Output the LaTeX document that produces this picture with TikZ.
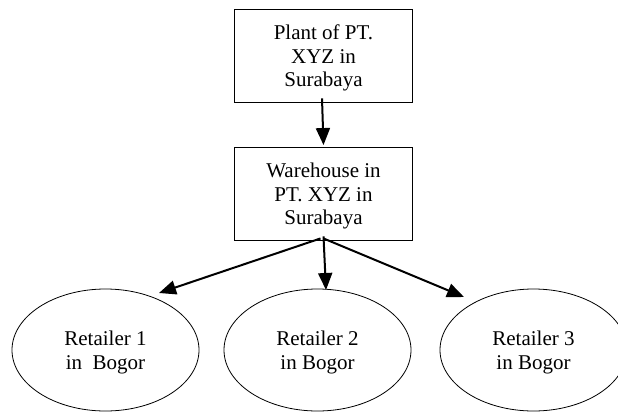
\documentclass[tikz,border=0pt]{standalone}
\usepackage{fontspec}
\setmainfont{Liberation Serif}
\usetikzlibrary{arrows.meta,shapes.geometric}

% centred multi-line label, drawn a little below the shape centre
% (the box keeps its natural height and depth, so the node is not resized)
\newcommand\stacktext[1]{\raisebox{-3pt}[\height][\depth]{\begin{tabular}{@{}c@{}}#1\end{tabular}}}

\tikzset{
  every node/.style={font=\fontsize{21}{23.6}\selectfont, inner sep=0pt},
  boxnode/.style={draw, line width=0.9pt, rectangle, minimum width=178pt, minimum height=93pt},
  shopnode/.style={draw, line width=0.8pt, ellipse, minimum width=187pt, minimum height=122pt},
  flow/.style={line width=2pt, -{Triangle[length=17pt,width=14pt]}}
}

\begin{document}
\begin{tikzpicture}[x=1pt,y=-1pt]
  \useasboundingbox (0,0) rectangle (618,412);
  \clip (0,0) rectangle (618,412);

  % plant and warehouse
  \node[boxnode] (plant) at (323.5,55.5) {\stacktext{Plant of PT.\\ XYZ in\\ Surabaya}};
  \node[boxnode] (wh) at (323.5,193.5) {\stacktext{Warehouse in\\ PT. XYZ in\\ Surabaya}};

  % retailers
  \node[shopnode] (r1) at (105.5,350) {\stacktext{Retailer 1\\ in\ \ Bogor}};
  \node[shopnode] (r2) at (317.5,350) {\stacktext{Retailer 2\\ in Bogor}};
  \node[shopnode] (r3) at (533.5,350) {\stacktext{Retailer 3\\ in Bogor}};

  % connector end points
  \coordinate (p0) at ([xshift=-1.5pt,yshift=4pt]plant.south);
  \coordinate (w0) at ([yshift=1.5pt]wh.north);
  \coordinate (hub) at ([yshift=2pt]wh.south);
  \coordinate (t1) at (159,293);
  \coordinate (t2) at (326,290);
  \coordinate (t3) at (464,297);

  \draw[flow] (p0) -- (w0);
  \draw[flow] ([xshift=-3pt]hub) -- (t1);
  \draw[flow] ([yshift=2pt]hub) -- (t2);
  \draw[flow] (hub) -- (t3);
\end{tikzpicture}
\end{document}
